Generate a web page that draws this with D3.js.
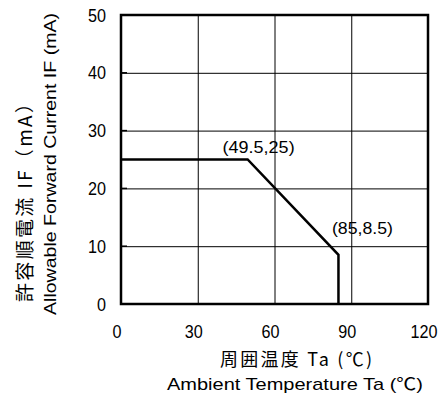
<!DOCTYPE html>
<html>
<head>
<meta charset="utf-8">
<script src="https://cdn.jsdelivr.net/npm/d3@7"></script>
<style>
  body { margin: 0; background: #fff; }
  svg text { font-family: "Liberation Sans", Arial, "Noto Sans CJK JP", sans-serif; fill: #000; }
  svg text.jp { font-family: "Noto Sans CJK JP", "Liberation Sans", sans-serif; }
</style>
</head>
<body>
<div id="chart"></div>
<script>
/**
 * DATA
 * */
const xTicks = [0, 30, 60, 90, 120];
const yTicks = [0, 10, 20, 30, 40, 50];
// derating curve: ambient temperature (°C) -> allowable forward current (mA)
const tempC = [0, 49.5, 85, 85];
const currentMA = [25, 25, 8.5, 0];
// labelled corner points
const noteTemp = [49.5, 85];
const noteCurrent = [25, 8.5];
const noteText = ["(49.5,25)", "(85,8.5)"];

const xTitle = ["周囲温度 Ta (℃)", "Ambient Temperature Ta (℃)"];
const yTitle = ["許容順電流 IF（mA）", "Allowable Forward Current IF (mA)"];

/**
 * CONSTANTS
 * */
const width = 443, height = 396,
  margin = { top: 15, bottom: 92, left: 121, right: 15 };

const svg = d3.select("#chart")
  .append("svg")
  .attr("width", width)
  .attr("height", height);

const x = d3.scaleLinear([0, 120], [margin.left, width - margin.right]);
const y = d3.scaleLinear([0, 50], [height - margin.bottom, margin.top]);

// grid lines
svg.append("g")
  .attr("transform", `translate(0,${y(0)})`)
  .call(d3.axisBottom(x).tickValues(xTicks).tickSize(-(y(0) - y(50))).tickFormat(""))
  .call(g => g.select(".domain").remove())
  .call(g => g.selectAll("line").attr("stroke", "#000").attr("stroke-width", 1));

svg.append("g")
  .attr("transform", `translate(${x(0)},0)`)
  .call(d3.axisLeft(y).tickValues(yTicks).tickSize(-(x(120) - x(0))).tickFormat(""))
  .call(g => g.select(".domain").remove())
  .call(g => g.selectAll("line").attr("stroke", "#000").attr("stroke-width", 1));

// little inward ticks on the left edge
svg.append("g")
  .selectAll("line")
  .data(yTicks)
  .join("line")
  .attr("x1", x(0)).attr("x2", x(0) + 6)
  .attr("y1", d => y(d)).attr("y2", d => y(d))
  .attr("stroke", "#000").attr("stroke-width", 1.5);

// tick labels
svg.append("g")
  .selectAll("text")
  .data(xTicks)
  .join("text")
  .attr("x", d => x(d) - 4)
  .attr("y", 338)
  .attr("text-anchor", "middle")
  .attr("font-size", 18)
  .attr("textLength", d => String(d).length * 9)
  .attr("lengthAdjust", "spacingAndGlyphs")
  .text(d => d);

svg.append("g")
  .selectAll("text")
  .data(yTicks)
  .join("text")
  .attr("x", 106)
  .attr("y", d => y(d) + 6.5)
  .attr("text-anchor", "end")
  .attr("font-size", 18)
  .attr("textLength", d => String(d).length * 9)
  .attr("lengthAdjust", "spacingAndGlyphs")
  .text(d => d);

// frame
svg.append("rect")
  .attr("x", x(0)).attr("y", y(50))
  .attr("width", x(120) - x(0)).attr("height", y(0) - y(50))
  .attr("fill", "none")
  .attr("stroke", "#000")
  .attr("stroke-width", 2.5);

// derating curve
const line = d3.line()
  .x(i => x(tempC[i]))
  .y(i => y(currentMA[i]));

svg.append("path")
  .datum(d3.range(tempC.length))
  .attr("d", line)
  .attr("fill", "none")
  .attr("stroke", "#000")
  .attr("stroke-width", 2.5)
  .attr("stroke-linejoin", "miter");

// point labels
const noteOffset = [[11, -7], [24, -21]];
const noteLen = [72, 61];
svg.append("g")
  .selectAll("text")
  .data(noteText)
  .join("text")
  .attr("x", (d, i) => x(noteTemp[i]) + noteOffset[i][0])
  .attr("y", (d, i) => y(noteCurrent[i]) + noteOffset[i][1])
  .attr("text-anchor", "middle")
  .attr("font-size", 17)
  .attr("textLength", (d, i) => noteLen[i])
  .attr("lengthAdjust", "spacingAndGlyphs")
  .text(d => d);

// axis titles
svg.append("text")
  .attr("class", "jp")
  .attr("x", 296).attr("y", 366)
  .attr("text-anchor", "middle")
  .attr("font-size", 18)
  .attr("textLength", 152).attr("lengthAdjust", "spacing")
  .text(xTitle[0]);

svg.append("text")
  .attr("x", 295).attr("y", 390)
  .attr("text-anchor", "middle")
  .attr("font-size", 17)
  .attr("textLength", 256).attr("lengthAdjust", "spacingAndGlyphs")
  .text(xTitle[1]);

svg.append("text")
  .attr("class", "jp")
  .attr("transform", "translate(32,198) rotate(-90)")
  .attr("text-anchor", "middle")
  .attr("font-size", 19)
  .attr("textLength", 208).attr("lengthAdjust", "spacing")
  .text(yTitle[0]);

svg.append("text")
  .attr("transform", "translate(56,164) rotate(-90)")
  .attr("text-anchor", "middle")
  .attr("font-size", 17)
  .attr("textLength", 302).attr("lengthAdjust", "spacingAndGlyphs")
  .text(yTitle[1]);
</script>
</body>
</html>
